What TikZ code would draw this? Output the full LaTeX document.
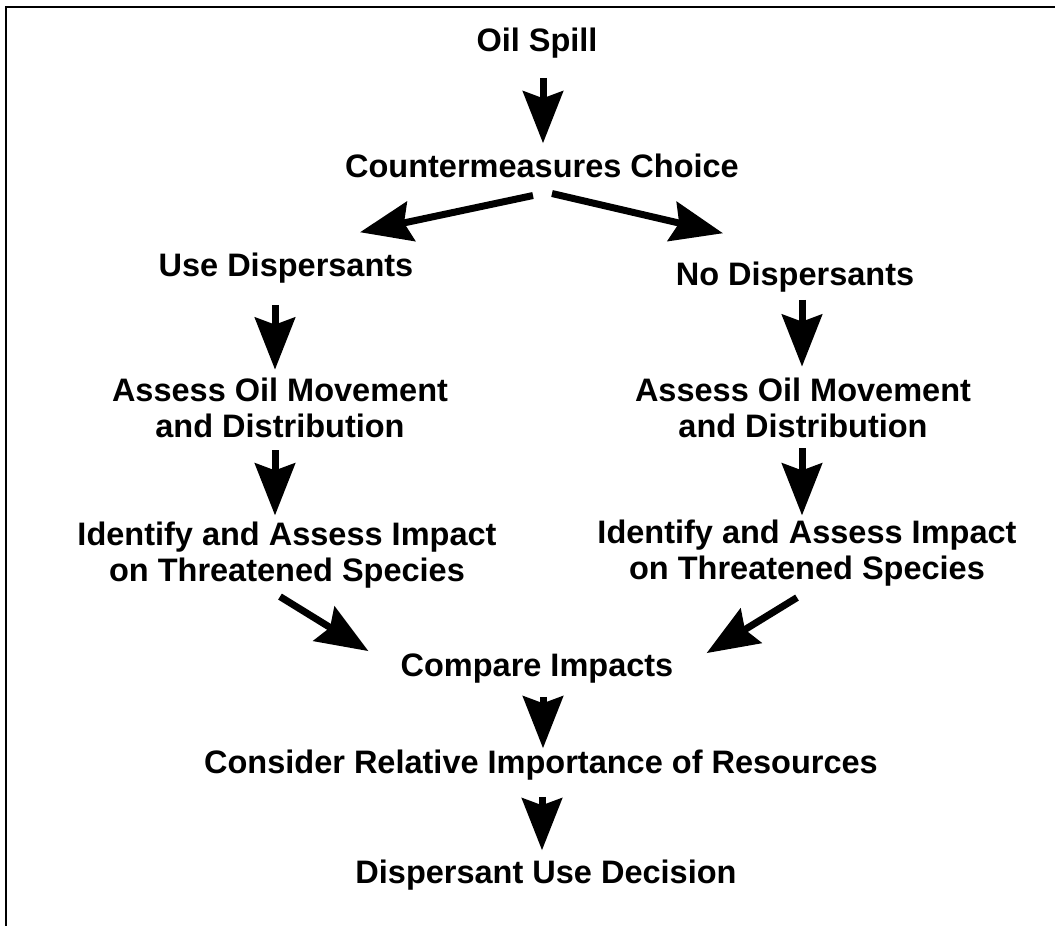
\documentclass[tikz,border=0pt]{standalone}
\usepackage{fontspec}
\setmainfont{Liberation Sans}
\usepackage{tikz}
\usetikzlibrary{arrows.meta}
\usetikzlibrary{calc}

\tikzset{
  lbl/.style={inner sep=0pt, font=\bfseries\fontsize{32.5pt}{36.5pt}\selectfont, align=center},
  flow/.style={line width=7pt, -{Stealth[length=52pt,width=40pt,inset=7pt]}}
}

\begin{document}
\begin{tikzpicture}[x=1pt,y=-1pt]
\useasboundingbox (0,0) rectangle (1055,926);
%frame
\draw[line width=2pt] (5.5,926) -- (5.5,6.5) -- (1055,6.5);

%top
\node[lbl,anchor=base] (spill) at (537,51) {Oil Spill};
\node[lbl,anchor=base] (choice) at (542,177) {Countermeasures Choice};

%use dispersants
\node[lbl,anchor=base] (usedisp) at (286,276) {Use Dispersants};
\node[lbl] (assessL) at (280,408) {Assess Oil Movement\\and Distribution};
\node[lbl] (identL) at (287,555) {Identify and Assess Impact\\on Threatened Species};

%no dispersants
\node[lbl,anchor=base] (nodisp) at (795,285) {No Dispersants};
\node[lbl] (assessR) at (803,408) {Assess Oil Movement\\and Distribution};
\node[lbl] (identR) at (807,553) {Identify and Assess Impact\\on Threatened Species};

%bottom
\node[lbl,anchor=base] (compare) at (537,676) {Compare Impacts};
\node[lbl,anchor=base] (consider) at (541,773) {Consider Relative Importance of Resources};
\node[lbl,anchor=base] (decision) at (546,883) {Dispersant Use Decision};

\draw[flow] ($(spill.south -| choice.north)+(1,20)$) -- ($(choice.north)+(1,-10)$);
\draw[flow] ($(choice.south)+(-9,18)$) -- ($(usedisp.north)+(74,-20)$);
\draw[flow] ($(choice.south)+(10,16)$) -- ($(nodisp.north)+(-72,-28)$);

\draw[flow] ($(usedisp.south)+(-11,22)$) -- ($(assessL.north)+(-5,-8)$);
\draw[flow] ($(assessL.south)+(-5,12)$) -- ($(identL.north)+(-12,-6)$);
\draw[flow] ($(nodisp.south)+(7,8)$) -- ($(assessR.north)+(-1,-11)$);
\draw[flow] ($(assessR.south)+(-1,10)$) -- ($(identR.north)+(-5,-4)$);

\draw[flow] ($(identL.south)+(-7,8)$) -- ($(compare.north west)+(-32,-2)$);
\draw[flow] ($(identR.south)+(-10,11)$) -- ($(compare.north east)+(33,0)$);

\draw[flow] ($(compare.south)+(6,14)$) -- ($(consider.north)+(2,-1)$);
\draw[flow] ($(consider.south)+(1,17)$) -- ($(decision.north)+(-4,-9)$);
\end{tikzpicture}
\end{document}
